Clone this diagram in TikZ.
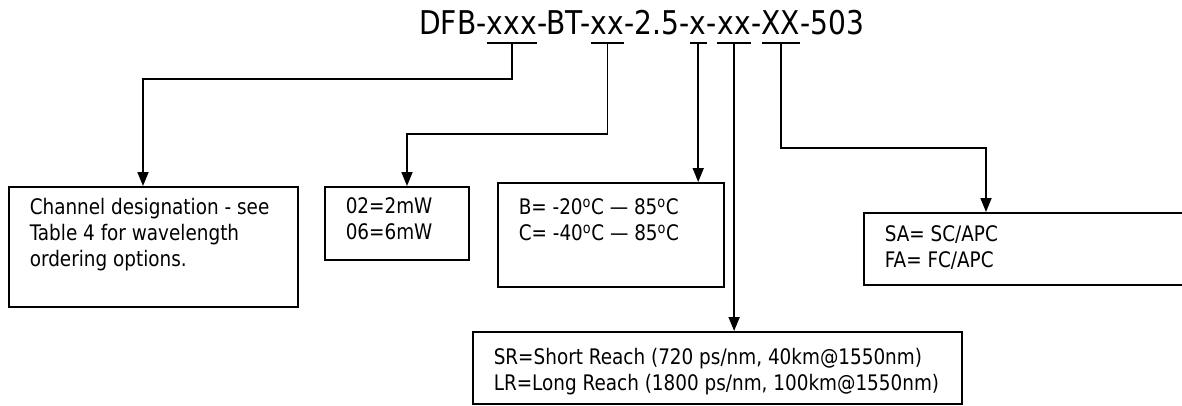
\documentclass[tikz,border=0pt]{standalone}
\usepackage{fontspec}
\setmainfont[FakeStretch=0.86]{DejaVu Sans}
\usetikzlibrary{arrows.meta}
\newcommand\titlesize{\fontsize{32.7pt}{39pt}\selectfont}
\newcommand\boxsize{\fontsize{21.4pt}{26pt}\selectfont}
\begin{document}
\begin{tikzpicture}[x=1pt,y=-1pt,
  conn/.style={line width=1.7pt,-{Triangle[length=14pt,width=11pt]}},
  seg/.style={inner sep=0pt,anchor=base west,font=\titlesize},
  useg/.style={seg,text depth=9pt},
  ul/.style={line width=1.5pt},
  box/.style={draw,line width=1.5pt,anchor=north west,inner xsep=21pt,inner ysep=0pt,font=\boxsize}]
\useasboundingbox (0,0) rectangle (1182,405);
% title
\node[seg] (t0) at (419,34) {DFB-};
\node[useg] (u1) at (t0.base east) {xxx};
\node[seg] (t1) at (u1.base east) {-BT-};
\node[useg] (u2) at (t1.base east) {xx};
\node[seg] (t2) at (u2.base east) {-2.5-};
\node[useg] (u3) at (t2.base east) {x};
\node[seg] (t3) at (u3.base east) {-};
\node[useg] (u4) at (t3.base east) {xx};
\node[seg] (t4) at (u4.base east) {-};
\node[useg] (u5) at (t4.base east) {XX};
\node[seg] (t5) at (u5.base east) {-503};
\foreach \u in {u1,u2,u3,u4,u5} \draw[ul] (\u.south west) -- (\u.south east);
% boxes
\node[box] (b1) at (8,186) {\parbox[b][120pt][t]{247pt}{\rule{0pt}{28pt}\mbox{Channel designation - see}\\\mbox{Table 4 for wavelength}\\\mbox{ordering options.}}};
\node[box] (b2) at (324,186) {\parbox[b][73pt][t]{102pt}{\rule{0pt}{27pt}\mbox{02=2mW}\\\mbox{06=6mW}}};
\node[box] (b3) at (497,182) {\parbox[b][104pt][t]{184pt}{\rule{0pt}{32pt}\mbox{B= -20\textsuperscript{o}C — 85\textsuperscript{o}C}\\\mbox{C= -40\textsuperscript{o}C — 85\textsuperscript{o}C}}};
\node[box] (b4) at (863,212) {\parbox[b][72pt][t]{298pt}{\rule{0pt}{29pt}\mbox{SA= SC/APC}\\\mbox{FA= FC/APC}}};
\node[box] (bb) at (472,331) {\parbox[b][72pt][t]{447pt}{\rule{0pt}{33pt}\mbox{SR=Short Reach (720 ps/nm, 40km@1550nm)}\\\mbox{LR=Long Reach (1800 ps/nm, 100km@1550nm)}}};
% connectors
\coordinate (k1) at (143,79);
\coordinate (k2) at (407,134);
\coordinate (k5) at (986,148);
\draw[conn] (u1.south) |- (k1) -- (k1 |- b1.north);
\draw[conn] (u2.south) |- (k2) -- (k2 |- b2.north);
\draw[conn] (u3.south) -- (u3.south |- b3.north);
\draw[conn] (u4.south) -- (u4.south |- bb.north);
\draw[conn] (u5.south) |- (k5) -- (k5 |- b4.north);
\end{tikzpicture}
\end{document}
